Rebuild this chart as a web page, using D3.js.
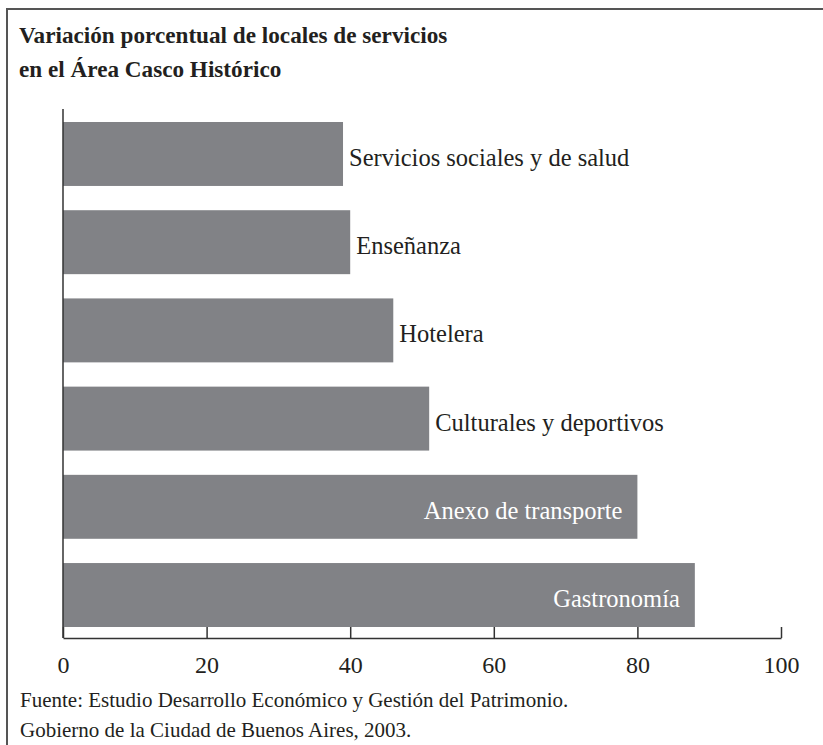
<!DOCTYPE html>
<html>
<head>
<meta charset="utf-8">
<script src="https://cdn.jsdelivr.net/npm/d3@7"></script>
<style>
  body { margin: 0; background: #fff; }
  text { font-family: "Liberation Serif", "Times New Roman", serif; fill: #231f20; }
</style>
</head>
<body>
<div id="graph"></div>
<script>

// data
const categories = ["Servicios sociales y de salud", "Enseñanza", "Hotelera",
                    "Culturales y deportivos", "Anexo de transporte", "Gastronomía"];
const values = [39, 40, 46, 51, 80, 88];
const tickValues = [0, 20, 40, 60, 80, 100];
const titleLines = ["Variación porcentual de locales de servicios", "en el Área Casco Histórico"];
const sourceLines = ["Fuente: Estudio Desarrollo Económico y Gestión del Patrimonio.",
                     "Gobierno de la Ciudad de Buenos Aires, 2003."];

const W = 823, H = 745;
const axisY = 638;

const svg = d3.select("#graph")
  .append("svg")
    .attr("width", W)
    .attr("height", H);

// frame (top and left rules)
svg.append("path")
    .attr("d", `M7,${H} L7,9 L${W},9`)
    .attr("fill", "none")
    .attr("stroke", "#555")
    .attr("stroke-width", 2);

// title
svg.append("g").selectAll("text")
  .data(titleLines)
  .join("text")
    .attr("x", 19)
    .attr("y", (d, i) => 43 + i * 34)
    .style("font-size", "23.2px")
    .style("font-weight", "bold")
    .text(d => d);

// scales
const x = d3.scaleLinear()
    .domain([0, 100])
    .range([63, 781]);

const y = d3.scaleBand()
    .domain(categories)
    .range([122, 627])
    .paddingInner(0.275)
    .paddingOuter(0);

// bars
svg.append("g").selectAll("rect")
  .data(values)
  .join("rect")
    .attr("x", x(0))
    .attr("y", (d, i) => y(categories[i]))
    .attr("width", d => x(d) - x(0))
    .attr("height", y.bandwidth())
    .attr("fill", "#818286");

// bar labels: outside when they fit, otherwise inside in white
const labels = svg.append("g").selectAll("text")
  .data(values)
  .join("text")
    .attr("y", (d, i) => y(categories[i]) + y.bandwidth() / 2 + 12)
    .style("font-size", "24.5px")
    .text((d, i) => categories[i]);

labels.each(function(d) {
    const t = d3.select(this);
    const w = this.getComputedTextLength();
    if (x(d) + 6 + w > x(100)) {
        t.attr("x", x(d) - 15).attr("text-anchor", "end").style("fill", "#fff");
    } else {
        t.attr("x", x(d) + 6).attr("text-anchor", "start");
    }
});

// x axis, ticks pointing up
const xAxis = svg.append("g")
    .attr("transform", `translate(0,${axisY})`)
    .call(d3.axisBottom(x)
        .tickValues(tickValues)
        .tickSizeInner(-11)
        .tickSizeOuter(0)
        .tickPadding(18));

xAxis.select(".domain").attr("stroke", "#333").attr("stroke-width", 1.5);
xAxis.selectAll(".tick line").attr("stroke", "#333").attr("stroke-width", 1.5);
xAxis.selectAll(".tick text")
    .style("font-size", "24px")
    .style("font-family", "'Liberation Serif', serif")
    .attr("fill", "#231f20");

// y axis line
svg.append("line")
    .attr("x1", x(0)).attr("x2", x(0))
    .attr("y1", 109).attr("y2", axisY)
    .attr("stroke", "#333")
    .attr("stroke-width", 1.5);

// source
svg.append("g").selectAll("text")
  .data(sourceLines)
  .join("text")
    .attr("x", 20)
    .attr("y", (d, i) => 707 + i * 30)
    .style("font-size", "21px")
    .text(d => d);

</script>
</body>
</html>
